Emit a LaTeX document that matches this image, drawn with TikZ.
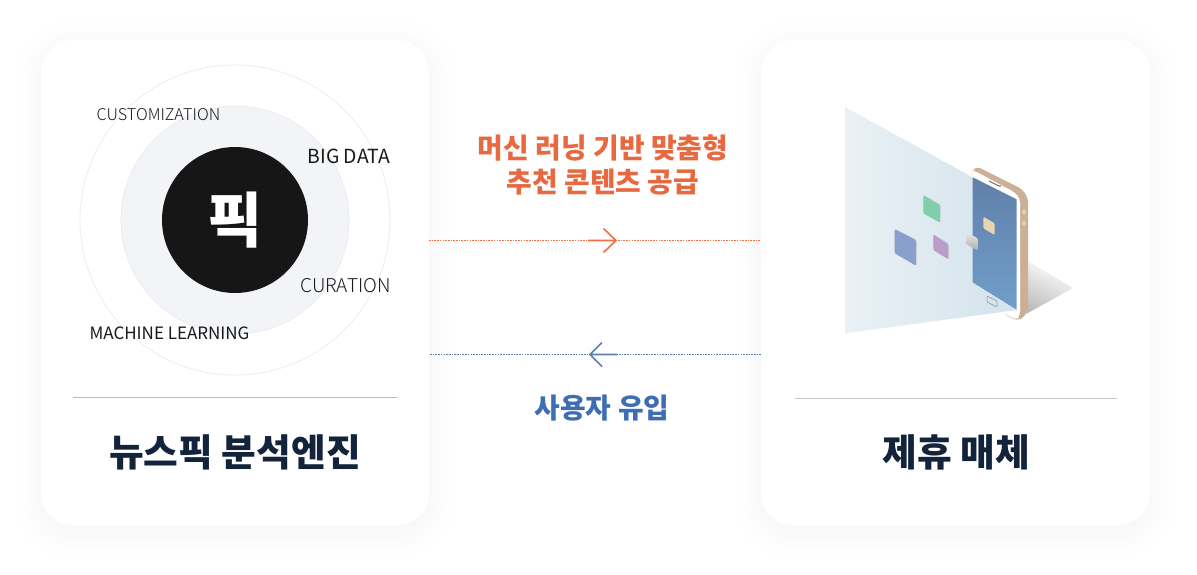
\documentclass[tikz,border=0pt]{standalone}
\usepackage{fontspec}
\setmainfont{Noto Sans CJK KR}
\newfontfamily\lightf{Noto Sans CJK KR Light}
\definecolor{orangeC}{HTML}{E8683F}
\definecolor{blueC}{HTML}{3F6DB3}
\definecolor{arrowB}{HTML}{5B7FB0}
\definecolor{arrowO}{HTML}{EA7347}
\definecolor{titleC}{HTML}{13233B}
\definecolor{tanC}{HTML}{CBB096}
\definecolor{midC}{HTML}{F2F4F8}
\definecolor{darkC}{HTML}{161616}
\definecolor{scrA}{HTML}{6080A8}
\definecolor{scrB}{HTML}{6284AF}
\definecolor{scrC}{HTML}{709ECB}
\definecolor{beamA}{HTML}{EAF1F5}
\definecolor{beamB}{HTML}{D3E3EC}
\definecolor{btnC}{HTML}{E1CDAF}
\definecolor{appG}{HTML}{80CEAC}
\definecolor{appB}{HTML}{8AA0CC}
\definecolor{appP}{HTML}{B89EC8}
\definecolor{appT}{HTML}{E8D4B0}
\definecolor{tipC}{HTML}{F1F3F6}
\tikzset{x=1pt,y=-1pt,
 panel/.style={fill=white,rounded corners=32pt,minimum width=388pt,minimum height=485pt,inner sep=0pt,draw=none},
 sep/.style={draw=#1,line width=1pt},
 ttl/.style={font=\fontsize{37.7}{40}\selectfont\bfseries,text=titleC,inner sep=0pt},
 lbl/.style={font=\fontsize{#1}{20}\selectfont,text=black!90,inner sep=0pt},
 lgt/.style={font=\lightf\fontsize{#1}{20}\selectfont,text=black!90,inner sep=0pt},
 lnk/.style={line width=.9pt,dash pattern=on 1.6pt off 1.1pt},
 ico/.style={line width=1.6pt},
 msg/.style={font=\fontsize{27.9}{34}\selectfont\bfseries,inner sep=0pt,align=center},
 app/.style={rounded corners=1.2pt,draw=none},
}
\begin{document}
\begin{tikzpicture}
\useasboundingbox (0,0) rectangle (1197,574);
\fill[white] (0,0) rectangle (1197,574);
% soft shadows
\foreach \cx in {235,955.5}{
 \foreach \d in {34,32,...,2}{
  \pgfmathsetmacro{\pc}{2.6*(1-\d/36)*(1-\d/36)}
  \fill[black!\pc!white,rounded corners=32pt+\d*1pt]
    (\cx-194-\d,40-\d+6) rectangle (\cx+194+\d,525+\d+6);
 }
}
% panels
\node[panel] (L) at (235,282.5) {};
\node[panel,minimum width=389pt] (R) at (955.5,282.5) {};
% circles
\node[circle,draw=black!8,line width=.7pt,minimum size=310pt,inner sep=0pt] (c1) at (235,220) {};
\node[circle,draw=black!8,fill=midC,line width=.7pt,minimum size=228pt,inner sep=0pt] (c2) at (235,220) {};
\node[circle,fill=darkC,minimum size=146pt,inner sep=0pt,text=white,font=\fontsize{60}{60}\selectfont\bfseries] (c3) at (235,220) {픽};
% labels
\node[lgt=16.2] (t1) at (158.5,115) {CUSTOMIZATION};
\node[lbl=19.4] (t2) at (349,156) {BIG DATA};
\node[lgt=19] (t3) at (345.5,286) {CURATION};
\node[lbl=17] (t4) at (169.5,333) {MACHINE LEARNING};
% separators
\coordinate (sl1) at (73,397.5); \coordinate (sl2) at (397,397.5);
\coordinate (sr1) at (795,398); \coordinate (sr2) at (1117,398);
\draw[sep={black!28}] (sl1) -- (sl2);
\draw[sep={black!22}] (sr1) -- (sr2);
\node[ttl] (tl) at (235,452) {뉴스픽 분석엔진};
\node[ttl] (tr) at (956,452) {제휴 매체};
% connectors
\coordinate (a1) at (429,240.5); \coordinate (a2) at (761,240.5);
\coordinate (b1) at (761,354.5); \coordinate (b2) at (429,354.5);
\draw[lnk,draw=arrowO] (a1) -- (a2);
\draw[lnk,draw=arrowB] (b1) -- (b2);
\draw[ico,draw=arrowO] (588,240.5) -- (616,240.5) (603.5,228.5) -- (616,240.5) -- (603.5,252.5);
\draw[ico,draw=arrowB] (617,354.5) -- (590,354.5) (602,342.5) -- (590,354.5) -- (602,366.5);
\node[msg,text=orangeC] (m1) at (603,165) {머신 러닝 기반 맞춤형\\추천 콘텐츠 공급};
\node[msg,text=blueC] (m2) at (602,408.5) {사용자 유입};
% phone: shadow
\shade[shading=axis,bottom color=black!30,middle color=tipC,top color=white,shading angle=-25,rounded corners=2pt] (1026,260) -- (1073,288) -- (1026,314) -- (1000,312) -- cycle;
% phone body
\fill[tanC,rounded corners=4pt] (971.5,171) -- (977,166.5) -- (1022,189) -- (1028,198) -- (1028,311) -- (1021,320) -- (1012,319) -- (971.5,290) -- cycle;
\fill[white,rounded corners=4pt] (971.5,171) -- (974,170.5) -- (1015,192.5) -- (1020,199) -- (1020,316) -- (1016,320) -- (971.5,296) -- cycle;
% screen
\shade[top color=scrA,middle color=scrB,bottom color=scrC]
 (972.7,177.3) -- (1016.7,199.3) -- (1016.7,310) -- (972.7,282.7) -- cycle;
% buttons and speaker
\fill[black!60] (989,180.5) -- (999,185.5) -- (999,186.5) -- (989,181.5) -- cycle;
\fill[black!70] (1000,186) circle (.8pt);
\fill[btnC] (1024,212) ellipse (2pt and 3pt) (1024,223) ellipse (2pt and 3pt);
% light beam
\shade[left color=beamA,right color=beamB]
 (845,107) -- (972.7,177.3) -- (972.7,282.7) -- (1016.7,310) -- (845,333.3) -- cycle;
% home button
\draw[black!45,line width=.5pt,rounded corners=1pt] (987,296) -- (997,301) -- (997,307) -- (987,302) -- cycle;
% app tiles
\fill[black!15,rounded corners=1.2pt] (923.3,195) -- (941,205) -- (941,223) -- (923.3,213.3) -- cycle;
\fill[app,appG] (923.3,195) -- (940,205) -- (940,222.7) -- (923.3,213.3) -- cycle;
\fill[black!15,rounded corners=1.2pt] (894.7,229) -- (917,240) -- (917,266) -- (894.7,253.3) -- cycle;
\fill[app,appB] (894.7,229) -- (916,240) -- (916,265.7) -- (894.7,253.3) -- cycle;
\fill[black!15,rounded corners=1.2pt] (933.3,234.3) -- (949,244) -- (949,259.6) -- (933.3,250) -- cycle;
\fill[app,appP] (933.3,234.3) -- (948.3,244) -- (948.3,259.3) -- (933.3,250) -- cycle;
\fill[app,appT] (983.3,216.7) -- (994.7,223.3) -- (994.7,235) -- (983.3,228.3) -- cycle;
\shade[app,top color=black!8,bottom color=black!32] (966,231.7) -- (977.7,238.3) -- (977.7,250.7) -- (966,244) -- cycle;
\end{tikzpicture}
\end{document}
